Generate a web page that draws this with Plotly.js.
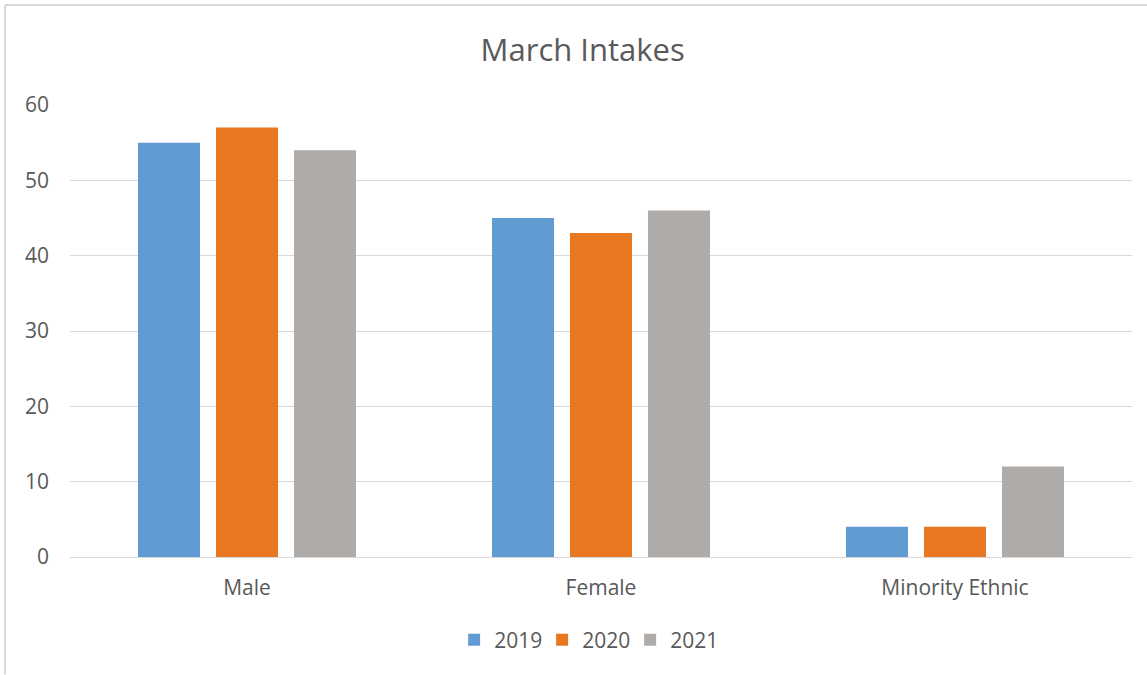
<!DOCTYPE html>
<html><head><meta charset="utf-8">
<script src="https://cdn.plot.ly/plotly-3.0.1.min.js"></script>
<style>html,body{margin:0;padding:0;background:#fff;}#chart{width:1147px;height:675px;}</style>
</head><body><div id="chart"></div>
<script>
const categories = ["Male", "Female", "Minority Ethnic"];
const seriesNames = ["2019", "2020", "2021"];
const values2019 = [55, 45, 4];
const values2020 = [57, 43, 4];
const values2021 = [54, 46, 12];
const yTicks = [0, 10, 20, 30, 40, 50, 60];
const colors = ["#629BD4", "#E87722", "#AEABA9"];

const allValues = [values2019, values2020, values2021];
const traces = seriesNames.map((name, i) => ({
  type: "bar", name: name, x: categories, y: allValues[i],
  marker: {color: colors[i]}, hoverinfo: "x+y+name"
}));

const font = {family: "Open Sans, Noto Sans, sans-serif", color: "#595959"};
const layout = {
  width: 1147, height: 675,
  margin: {l: 70, r: 15, t: 105, b: 118},
  paper_bgcolor: "#fff", plot_bgcolor: "#fff",
  font: Object.assign({size: 21}, font),
  title: {text: "March Intakes", font: Object.assign({}, font, {size: 31}),
          x: 0.508, xanchor: "center", y: 0.926, yanchor: "middle", xref: "container", yref: "container"},
  barmode: "group", bargap: 0.339, bargroupgap: 0.205,
  xaxis: {type: "category", showgrid: false, showline: false, zeroline: false,
          ticks: "", tickfont: {size: 21, color: "#595959"}, ticklabelstandoff: 16},
  yaxis: {range: [0, 60], tickvals: yTicks, showgrid: true, gridcolor: "#D9D9D9", gridwidth: 1,
          zeroline: true, zerolinecolor: "#D9D9D9", zerolinewidth: 1, showline: false,
          ticks: "", tickfont: {size: 21, color: "#595959"}, ticklabelstandoff: 20},
  legend: {orientation: "h", x: 0.486, xanchor: "center", y: -0.184, yanchor: "middle",
           font: {size: 21, color: "#595959"}, itemwidth: 30, entrywidth: 43, entrywidthmode: "pixels",
           traceorder: "normal"},
  shapes: [
    {type: "line", xref: "paper", yref: "paper", x0: -0.0612, x1: 1.02, y0: 1.221, y1: 1.221, line: {color: "#D9D9D9", width: 2}},
    {type: "line", xref: "paper", yref: "paper", x0: -0.0612, x1: -0.0612, y0: 1.221, y1: -0.26, line: {color: "#D9D9D9", width: 2}}
  ],
  showlegend: true
};
Plotly.newPlot("chart", traces, layout, {displayModeBar: false, staticPlot: true});
</script></body></html>
